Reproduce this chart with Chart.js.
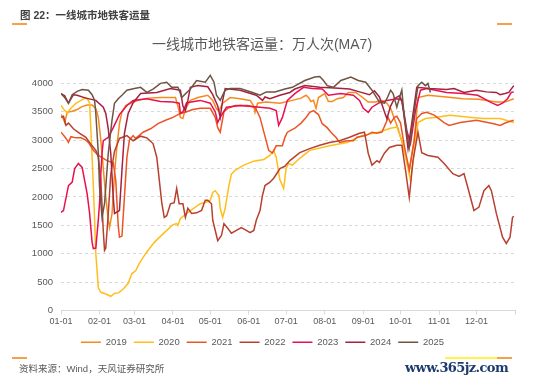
<!DOCTYPE html>
<html>
<head>
<meta charset="utf-8">
<script src="https://cdn.jsdelivr.net/npm/chart.js@4.4.1/dist/chart.umd.min.js"></script>
<style>
  html, body { margin: 0; padding: 0; background: #fff; }
  #wrap { position: relative; width: 550px; height: 383px; overflow: hidden; }
  #c { position: absolute; left: 0; top: 0; }
  .txt { position: absolute; white-space: nowrap; font-family: "Liberation Sans", "Noto Sans CJK SC", sans-serif; }
  .bar { position: absolute; height: 1.5px; }
</style>
</head>
<body>
<div id="wrap">
  <canvas id="c" width="550" height="383"></canvas>
  <div class="txt" style="left:20px; top:7px; font-size:10.5px; font-weight:bold; color:#404040;">图 22：一线城市地铁客运量</div>
  <div class="bar" style="left:12px; top:23px; width:15px; background:#F5A04A;"></div>
  <div class="bar" style="left:497px; top:23px; width:15px; background:#F5A04A;"></div>
  <div class="txt" style="left:0; width:524px; text-align:center; top:33px; font-size:14px; color:#595959;">一线城市地铁客运量：万人次(MA7)</div>
  <div class="bar" style="left:12px; top:357px; width:15px; background:#F5A04A;"></div>
  <div class="bar" style="left:445px; top:357px; width:52px; background:#FFF34D;"></div>
  <div class="bar" style="left:497px; top:357px; width:15px; background:#F5A04A;"></div>
  <div class="txt" style="left:19px; top:361px; font-size:9.5px; color:#595959;">资料来源：Wind，天风证券研究所</div>
  <div class="txt" style="left:405px; top:360px; font-size:13px; font-weight:bold; color:#1C3A6E; font-family:'DejaVu Serif', serif; letter-spacing:-0.6px;">www.365jz.com</div>
</div>
<script>
// day of year (0 = 01-01), value in 万人次
const s2019 = [[0,3450],[1,3420],[3,3310],[5,3490],[9,3510],[13,3540],[17,3590],[21,3620],[25,3620],[28,3560],[30,3400],[32,3000],[34,2500],[36,2000],[38,1600],[39,1460],[41,1700],[43,2400],[45,2900],[47,3290],[49,3500],[52,3610],[56,3650],[62,3700],[70,3740],[80,3750],[92,3750],[94,3600],[96,3400],[98,3380],[100,3550],[104,3700],[110,3750],[118,3790],[122,3700],[125,3550],[127,3520],[130,3650],[136,3750],[144,3730],[152,3700],[155,3600],[156,3490],[158,3650],[165,3670],[176,3650],[186,3700],[193,3740],[197,3790],[199,3750],[201,3680],[203,3700],[205,3560],[207,3750],[212,3820],[215,3680],[218,3680],[222,3730],[227,3750],[231,3840],[237,3840],[242,3760],[247,3670],[253,3670],[258,3700],[262,3650],[265,3560],[268,3380],[271,3200],[275,2900],[280,2470],[284,3000],[287,3750],[295,3790],[310,3760],[323,3730],[336,3720],[350,3670],[357,3670],[364,3730]];
const s2020 = [[0,3610],[3,3520],[5,3480],[8,3560],[12,3650],[16,3700],[20,3750],[22,3700],[23,3650],[24,3200],[26,2200],[28,1000],[30,400],[32,320],[36,290],[40,250],[43,300],[46,310],[48,340],[51,400],[54,480],[57,650],[60,700],[63,830],[68,1000],[75,1200],[82,1350],[90,1510],[93,1530],[94,1500],[96,1620],[104,1760],[112,1880],[118,1920],[120,1940],[122,2080],[124,2110],[127,2020],[128,1800],[130,1640],[132,1800],[135,2200],[137,2400],[140,2470],[147,2560],[155,2630],[163,2660],[168,2730],[171,2820],[173,2700],[176,2300],[179,2150],[181,2500],[183,2590],[186,2560],[192,2680],[200,2820],[216,2900],[230,2960],[242,3080],[255,3140],[265,3210],[270,3230],[274,3000],[278,2600],[281,2290],[284,2800],[287,3310],[293,3380],[300,3400],[313,3440],[330,3400],[340,3380],[353,3380],[364,3310]];
const s2021 = [[0,3140],[3,3060],[5,3000],[6,2960],[8,3060],[12,3040],[16,3040],[20,3000],[22,2960],[26,2820],[30,2730],[37,2640],[42,2600],[44,2300],[46,1500],[47,1290],[49,1310],[51,2000],[53,2700],[55,3000],[58,3080],[60,3030],[66,3140],[72,3200],[78,3290],[84,3350],[90,3400],[96,3470],[100,3490],[106,3540],[112,3560],[120,3560],[124,3400],[126,3220],[128,3140],[131,3500],[134,3560],[140,3610],[150,3610],[156,3580],[160,3400],[163,3150],[167,2820],[170,2770],[173,2900],[178,2900],[180,3050],[182,3140],[188,3210],[193,3300],[197,3400],[200,3490],[203,3520],[207,3450],[210,3290],[214,3220],[217,3140],[221,3050],[224,2960],[230,2990],[235,2990],[238,3050],[245,3080],[250,3140],[254,3120],[258,3140],[261,3290],[263,3400],[265,3300],[268,3400],[270,3420],[273,3300],[276,2900],[280,2470],[284,3000],[286,3380],[290,3470],[294,3490],[300,3440],[308,3310],[312,3260],[321,3310],[334,3350],[348,3290],[353,3260],[358,3310],[364,3350]];
const s2022 = [[0,3400],[2,3420],[4,3260],[6,3300],[10,3200],[15,3120],[20,3050],[25,2900],[28,2820],[30,2700],[32,2300],[34,1400],[35,1060],[36,1100],[38,1700],[40,2400],[43,2800],[47,3030],[53,3080],[58,2990],[64,3070],[69,3040],[74,2940],[77,2700],[79,2300],[81,1900],[83,1640],[85,1670],[88,1880],[91,1900],[93,2150],[95,1880],[98,1880],[100,1640],[102,1800],[105,1710],[109,1720],[113,1760],[116,1940],[118,1940],[121,1880],[122,1590],[125,1320],[126,1230],[129,1320],[131,1530],[134,1450],[137,1360],[141,1410],[145,1460],[149,1410],[152,1370],[155,1410],[157,1590],[160,1760],[162,2030],[164,2200],[168,2260],[171,2330],[174,2430],[176,2500],[180,2540],[184,2640],[192,2780],[200,2850],[208,2910],[216,2960],[224,2990],[232,3050],[240,3120],[244,3140],[247,2770],[250,2560],[254,2640],[256,2610],[260,2770],[264,2870],[270,2910],[274,2910],[277,2470],[280,1990],[283,2640],[287,3140],[290,2780],[295,2730],[303,2700],[308,2590],[315,2410],[320,2360],[324,2410],[327,2170],[332,1760],[336,1820],[340,2110],[344,2200],[346,2110],[350,1710],[355,1290],[358,1180],[361,1290],[363,1640],[364,1660]];
const s2023 = [[0,1730],[2,1760],[6,2200],[9,2260],[11,2500],[14,2590],[17,2520],[21,2060],[23,1710],[25,1200],[26,1090],[28,1100],[30,1600],[31,1890],[32,2400],[33,2770],[34,2990],[38,3050],[42,3220],[47,3450],[53,3610],[58,3700],[69,3730],[80,3680],[90,3670],[95,3650],[96,3470],[98,3500],[101,3660],[112,3700],[120,3650],[124,3500],[126,3310],[128,3400],[133,3580],[144,3610],[160,3580],[168,3560],[173,3520],[175,3260],[178,3400],[182,3700],[188,3820],[195,3930],[202,3910],[210,3900],[215,3790],[225,3820],[235,3790],[240,3700],[243,3560],[247,3490],[250,3580],[256,3660],[262,3700],[270,3730],[274,3700],[276,3450],[278,3170],[281,2940],[285,3520],[289,3880],[294,3910],[310,3840],[323,3820],[335,3790],[346,3660],[351,3610],[355,3650],[359,3730],[362,3840],[364,3850]];
const s2024 = [[0,3820],[3,3780],[6,3650],[10,3800],[13,3790],[20,3740],[28,3700],[34,3580],[36,3470],[38,3200],[40,2770],[42,1990],[43,1710],[47,1760],[49,2470],[51,3120],[54,3470],[58,3660],[64,3820],[77,3840],[88,3910],[96,3880],[98,3600],[100,3520],[102,3700],[104,3930],[110,3960],[118,3940],[122,3800],[126,3600],[128,3400],[130,3700],[132,3910],[144,3880],[157,3790],[162,3700],[164,3760],[168,3730],[176,3790],[184,3840],[188,3900],[196,3960],[208,3930],[220,3920],[232,3900],[240,3850],[248,3800],[252,3870],[256,3760],[260,3500],[262,3380],[265,3600],[268,3730],[272,3780],[274,3700],[276,3400],[279,2850],[282,3300],[286,3930],[296,3910],[310,3890],[316,3910],[324,3840],[334,3880],[342,3850],[350,3840],[353,3800],[357,3820],[360,3840],[364,3960]];
const s2025 = [[0,3820],[3,3750],[6,3650],[9,3800],[13,3860],[17,3890],[22,3880],[25,3800],[27,3700],[28,3470],[30,2770],[31,2170],[33,1640],[35,1880],[38,2770],[41,3350],[43,3650],[46,3730],[49,3790],[53,3880],[59,3910],[64,3930],[69,3840],[74,3900],[80,4000],[85,4020],[89,3930],[94,3930],[96,3820],[97,3750],[104,3900],[109,4050],[116,4020],[120,4140],[123,4020],[125,3790],[128,3700],[132,3880],[136,3910],[144,3910],[154,3840],[160,3790],[165,3850],[172,3850],[180,3900],[186,3930],[196,4050],[204,4110],[208,4120],[211,4050],[214,3960],[219,3930],[225,4050],[233,4110],[239,4050],[245,4020],[250,3880],[256,3670],[260,3650],[262,3730],[265,3880],[267,3820],[270,3580],[272,3740],[274,3880],[276,3400],[280,2870],[283,3350],[287,3960],[290,4020],[293,3960],[295,4000],[297,3840]];

const years = ['2019', '2020', '2021', '2022', '2023', '2024', '2025'];
const seriesList = [s2019, s2020, s2021, s2022, s2023, s2024, s2025];
const colors = ['#F58A1F', '#FFBE1A', '#EB5424', '#B8402F', '#E8104F', '#A6213F', '#6E5443'];

const monthTicks = [0, 31, 59, 90, 120, 151, 181, 212, 243, 273, 304, 334, 365];
const monthLabels = ['01-01', '02-01', '03-01', '04-01', '05-01', '06-01', '07-01', '08-01', '09-01', '10-01', '11-01', '12-01', ''];
const yTicks = [0, 500, 1000, 1500, 2000, 2500, 3000, 3500, 4000];

Chart.defaults.font.family = "'Liberation Sans', 'Noto Sans CJK SC', sans-serif";
Chart.defaults.color = '#595959';

const datasets = years.map((y, i) => ({
  label: y,
  data: seriesList[i].map(p => ({ x: p[0], y: p[1] })),
  borderColor: colors[i],
  backgroundColor: colors[i],
  borderWidth: 1.5,
  pointRadius: 0,
  tension: 0,
  order: years.length - 1 - i
}));

new Chart(document.getElementById('c'), {
  type: 'line',
  data: { datasets },
  options: {
    responsive: false,
    animation: false,
    layout: { padding: { left: 10, right: 35, top: 72, bottom: 26 } },
    scales: {
      x: {
        type: 'linear',
        min: 0,
        max: 365,
        afterBuildTicks: s => { s.ticks = monthTicks.map(v => ({ value: v })); },
        afterFit: s => { s.height = 20; },
        ticks: {
          autoSkip: false,
          maxRotation: 0,
          padding: 2,
          font: { size: 9 },
          color: '#595959',
          callback: v => { const k = monthTicks.indexOf(v); return k >= 0 ? monthLabels[k] : ''; }
        },
        grid: { drawOnChartArea: false, drawTicks: true, tickLength: 4, color: '#D9D9D9' },
        border: { display: true, color: '#D9D9D9' }
      },
      y: {
        min: 0,
        max: 4200,
        afterBuildTicks: s => { s.ticks = yTicks.map(v => ({ value: v })); },
        afterFit: s => { s.width = 51; },
        ticks: { padding: 8, font: { size: 9.5 }, color: '#595959', callback: v => String(v) },
        grid: { color: '#D9D9D9', drawTicks: false },
        border: { display: false, dash: [3, 3] }
      }
    },
    plugins: {
      legend: {
        position: 'bottom',
        labels: {
          usePointStyle: true,
          pointStyle: 'line',
          pointStyleWidth: 20,
          padding: 7,
          font: { size: 9.5 },
          color: '#595959',
          sort: (a, b) => a.datasetIndex - b.datasetIndex
        }
      },
      tooltip: { enabled: false }
    }
  }
});
</script>
</body>
</html>
